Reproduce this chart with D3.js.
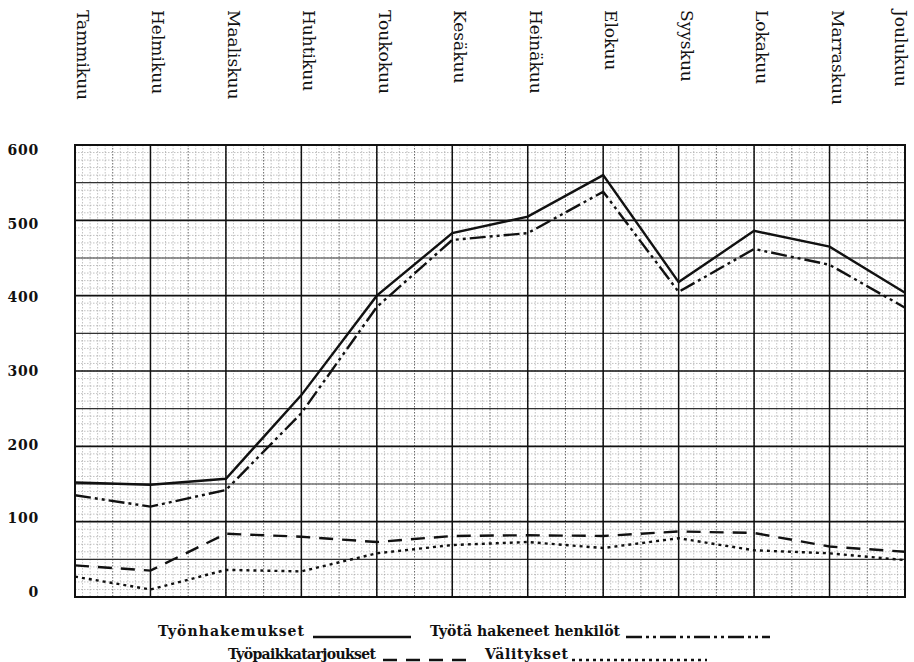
<!DOCTYPE html>
<html>
<head>
<meta charset="utf-8">
<script src="https://cdn.jsdelivr.net/npm/d3@7"></script>
<style>
	body { margin: 0; background: #fff; }
	svg { display: block; }
	.month { font-family: "DejaVu Serif", serif; font-size: 17px; fill: #111; }
	.ylab { font-family: "DejaVu Serif", serif; font-size: 14px; font-weight: bold; fill: #111; letter-spacing: 0.8px; }
	.legend text { font-family: "DejaVu Serif", serif; font-size: 14px; font-weight: bold; fill: #111; }
</style>
</head>
<body>
<div id="chart"></div>
<script>
	// Data
	var months = ['Tammikuu', 'Helmikuu', 'Maaliskuu', 'Huhtikuu', 'Toukokuu', 'Kesäkuu',
		'Heinäkuu', 'Elokuu', 'Syyskuu', 'Lokakuu', 'Marraskuu', 'Joulukuu'];
	var tyonhakemukset = [152, 149, 157, 268, 400, 483, 505, 560, 418, 486, 465, 404];
	var hakeneet = [135, 120, 142, 244, 385, 474, 483, 538, 405, 462, 441, 384];
	var tarjoukset = [42, 35, 84, 80, 73, 81, 82, 81, 87, 85, 67, 60];
	var valitykset = [27, 10, 36, 34, 58, 69, 73, 65, 78, 62, 58, 49];
	var yTicks = [0, 100, 200, 300, 400, 500, 600];

(function() {
	var series = [
		{ label: 'Työnhakemukset', values: tyonhakemukset, dash: null },
		{ label: 'Työtä hakeneet henkilöt', values: hakeneet, dash: '16,4,3,4,3,4' },
		{ label: 'Työpaikkatarjoukset', values: tarjoukset, dash: '14,9' },
		{ label: 'Välitykset', values: valitykset, dash: '3,4' }
	];

	var width = 914, height = 662;
	var margin = { left: 75, right: 905, top: 145, bottom: 597 };

	var svg = d3.select('#chart')
		.append('svg')
			.attr('width', width)
			.attr('height', height);

	var x = d3.scalePoint().domain(months).range([margin.left, margin.right]);
	var y = d3.scaleLinear().domain([0, 600]).range([margin.bottom, margin.top]);
	// the printed numbers sit a little inside the grid ends
	var yLab = d3.scaleLinear().domain([0, 600]).range([592, 150]);
	var step = x.step();

	var grid = svg.append('g');

	// minor grid (graph paper)
	var minorX = d3.range(0, 11 * 10 + 1).map(function(i) { return margin.left + i * step / 10; });
	grid.selectAll('.minor-x')
		.data(minorX)
		.enter().append('line')
			.attr('x1', function(d) { return d; })
			.attr('x2', function(d) { return d; })
			.attr('y1', margin.top)
			.attr('y2', margin.bottom)
			.attr('stroke', function(d, i) { return i % 5 == 0 ? '#555' : '#999'; })
			.attr('stroke-width', function(d, i) { return i % 5 == 0 ? 0.9 : 0.6; })
			.attr('stroke-dasharray', '1.5,1.5');

	var minorY = d3.range(0, 601, 10);
	grid.selectAll('.minor-y')
		.data(minorY)
		.enter().append('line')
			.attr('x1', margin.left)
			.attr('x2', margin.right)
			.attr('y1', function(d) { return y(d); })
			.attr('y2', function(d) { return y(d); })
			.attr('stroke', '#999')
			.attr('stroke-width', 0.6)
			.attr('stroke-dasharray', '1.5,1.5');

	// 50 and 100 lines
	grid.selectAll('.major-y')
		.data(d3.range(50, 600, 50))
		.enter().append('line')
			.attr('x1', margin.left)
			.attr('x2', margin.right)
			.attr('y1', function(d) { return y(d); })
			.attr('y2', function(d) { return y(d); })
			.attr('stroke', function(d) { return d % 100 == 0 ? '#111' : '#333'; })
			.attr('stroke-width', function(d) { return d % 100 == 0 ? 1.6 : 1.1; });

	// month lines
	grid.selectAll('.major-x')
		.data(months)
		.enter().append('line')
			.attr('x1', function(d) { return x(d); })
			.attr('x2', function(d) { return x(d); })
			.attr('y1', margin.top)
			.attr('y2', margin.bottom)
			.attr('stroke', '#111')
			.attr('stroke-width', 1.5);

	grid.append('rect')
		.attr('x', margin.left)
		.attr('y', margin.top)
		.attr('width', margin.right - margin.left)
		.attr('height', margin.bottom - margin.top)
		.attr('fill', 'none')
		.attr('stroke', '#111')
		.attr('stroke-width', 2);

	// y labels
	svg.selectAll('.ylab')
		.data(yTicks)
		.enter().append('text')
			.attr('class', 'ylab')
			.attr('x', 39)
			.attr('y', function(d) { return yLab(d); })
			.attr('dy', '0.35em')
			.attr('text-anchor', 'end')
		.text(function(d) { return d; });

	// month labels, rotated
	svg.selectAll('.month')
		.data(months)
		.enter().append('text')
			.attr('class', 'month')
			.attr('transform', function(d, i) {
				var px = i == months.length - 1 ? x(d) - 10 : x(d) + 2;
				return 'translate(' + px + ',10) rotate(90)';
			})
			.attr('text-anchor', 'start')
		.text(function(d) { return d; });

	// series lines
	var line = d3.line()
		.x(function(d, i) { return x(months[i]); })
		.y(function(d) { return y(d); });

	svg.selectAll('.serie')
		.data(series)
		.enter().append('path')
			.attr('class', 'serie')
			.attr('d', function(d) { return line(d.values); })
			.attr('fill', 'none')
			.attr('stroke', '#111')
			.attr('stroke-width', 2.4)
			.attr('stroke-dasharray', function(d) { return d.dash; });

	// legend: text span and sample line for each entry
	var legendPos = [
		{ t1: 158, t2: 304, lx1: 313, lx2: 411, ly: 637 },
		{ t1: 430, t2: 620, lx1: 626, lx2: 770, ly: 637 },
		{ t1: 228, t2: 376, lx1: 383, lx2: 474, ly: 660 },
		{ t1: 485, t2: 568, lx1: 572, lx2: 707, ly: 660 }
	];
	var legend = svg.selectAll('.legend')
		.data(series)
		.enter().append('g')
			.attr('class', 'legend');

	legend.append('text')
		.attr('x', function(d, i) { return legendPos[i].t1; })
		.attr('y', function(d, i) { return legendPos[i].ly - 1; })
		.attr('textLength', function(d, i) { return legendPos[i].t2 - legendPos[i].t1; })
		.attr('lengthAdjust', 'spacing')
		.text(function(d) { return d.label; });

	legend.append('line')
		.attr('x1', function(d, i) { return legendPos[i].lx1; })
		.attr('x2', function(d, i) { return legendPos[i].lx2; })
		.attr('y1', function(d, i) { return legendPos[i].ly; })
		.attr('y2', function(d, i) { return legendPos[i].ly; })
		.attr('stroke', '#111')
		.attr('stroke-width', 2.4)
		.attr('stroke-dasharray', function(d) { return d.dash; });
})();
</script>
</body>
</html>
